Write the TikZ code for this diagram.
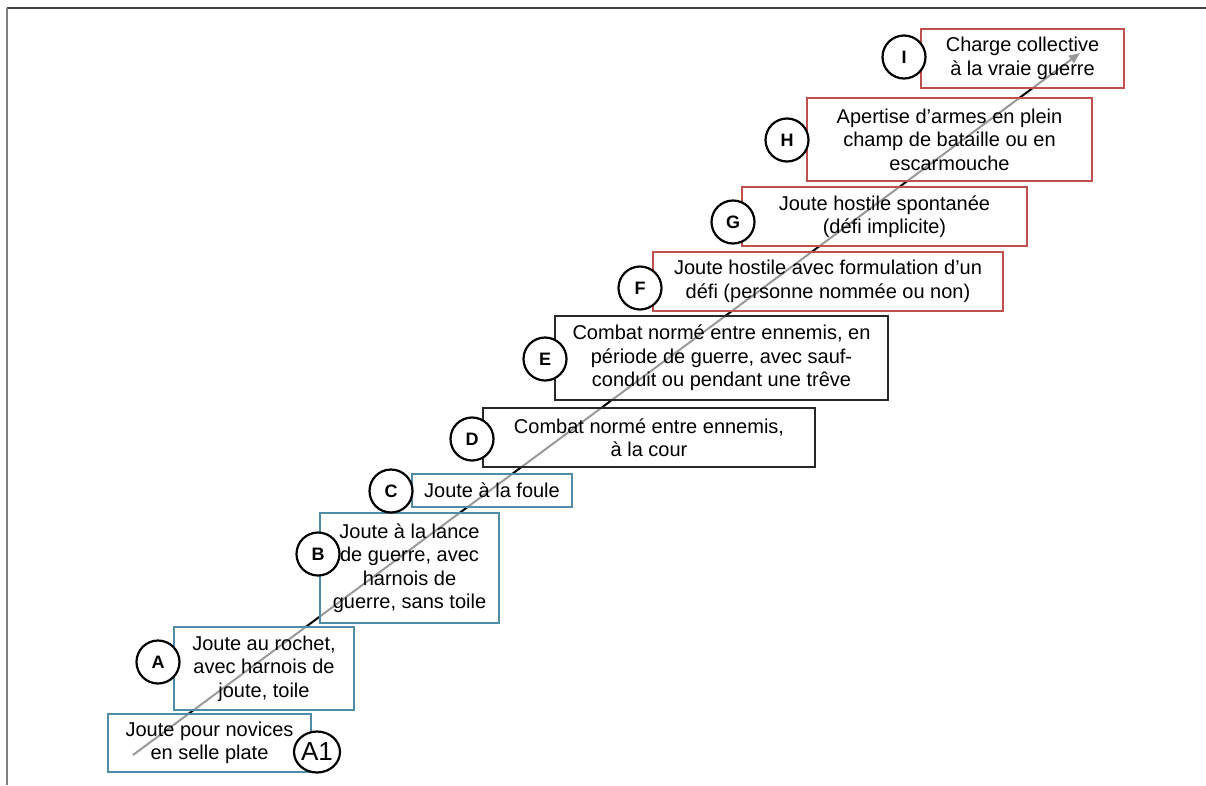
\documentclass[tikz,border=0pt]{standalone}
\usepackage{fontspec}
\setmainfont{Liberation Sans}
\usetikzlibrary{arrows.meta,shapes.geometric}
\definecolor{tealb}{RGB}{80,140,165}
\definecolor{redb}{RGB}{192,80,77}
\definecolor{darkb}{RGB}{40,40,40}
\begin{document}
\begin{tikzpicture}[x=1pt,y=-1pt,
  box/.style={draw, line width=1.1pt, fill=white, fill opacity=0.6, text opacity=1,
    align=center, inner sep=0pt, font=\fontsize{20}{23.5}\selectfont},
  tbox/.style={box, draw=tealb},
  kbox/.style={box, draw=darkb},
  rbox/.style={box, draw=redb},
  lab/.style={circle, draw=black, line width=2.2pt, fill=white, minimum size=43pt,
    inner sep=0pt, font=\fontsize{18}{20}\selectfont\bfseries},
  frame/.style={line width=2pt}]
\useasboundingbox (0,0) rectangle (1206,785);
% frame
\coordinate (ftl) at (6.5,7.5);
\coordinate (ftr) at (1206,7.5);
\coordinate (fbl) at (6.5,785);
\draw[frame, color=black!75] (ftl) -- (ftr);
\draw[frame, color=black!50] (ftl) -- (fbl);
% diagonal arrow (behind the boxes)
\coordinate (s) at (133,755);
\coordinate (e) at (1080,53);
\draw[line width=2pt, -{Triangle[length=11pt,width=9pt]}] (s) -- (e);
% boxes
\node[tbox, minimum width=203pt, minimum height=58pt] (bA1) at (209.5,743) {Joute pour novices\\en selle plate};
\node[tbox, minimum width=180pt, minimum height=83pt] (bA) at (264,668.5) {Joute au rochet,\\avec harnois de\\joute, toile};
\node[tbox, minimum width=179pt, minimum height=110pt] (bB) at (409.5,568) {Joute à la lance\\de guerre, avec\\harnois de\\guerre, sans toile};
\node[tbox, minimum width=160pt, minimum height=33pt] (bC) at (492,490.5) {Joute à la foule};
\node[kbox, minimum width=332pt, minimum height=59pt] (bD) at (649,437.5) {Combat normé entre ennemis,\\à la cour};
\node[kbox, minimum width=333pt, minimum height=84pt] (bE) at (721.5,358) {Combat normé entre ennemis, en\\période de guerre, avec sauf-\\conduit ou pendant une trêve};
\node[rbox, minimum width=350pt, minimum height=59pt] (bF) at (828,281.5) {Joute hostile avec formulation d’un\\défi (personne nommée ou non)};
\node[rbox, minimum width=285pt, minimum height=59pt] (bG) at (884.5,216.5) {Joute hostile spontanée\\(défi implicite)};
\node[rbox, minimum width=285pt, minimum height=83pt] (bH) at (949.5,139.5) {Apertise d’armes en plein\\champ de bataille ou en\\escarmouche};
\node[rbox, minimum width=203pt, minimum height=59pt] (bI) at (1022.5,58.5) {Charge collective\\à la vraie guerre};
% labels
\node[lab, ellipse, minimum width=46pt, minimum height=41pt, font=\fontsize{26}{28}\selectfont] (lA1) at (317,752) {A1};
\node[lab] (lA) at (158,662) {A};
\node[lab] (lB) at (318,554) {B};
\node[lab] (lC) at (391,491) {C};
\node[lab] (lD) at (472,439) {D};
\node[lab] (lE) at (545,359) {E};
\node[lab] (lF) at (640,288) {F};
\node[lab] (lG) at (733,222) {G};
\node[lab] (lH) at (787,140) {H};
\node[lab] (lI) at (904,57) {I};
\end{tikzpicture}
\end{document}
